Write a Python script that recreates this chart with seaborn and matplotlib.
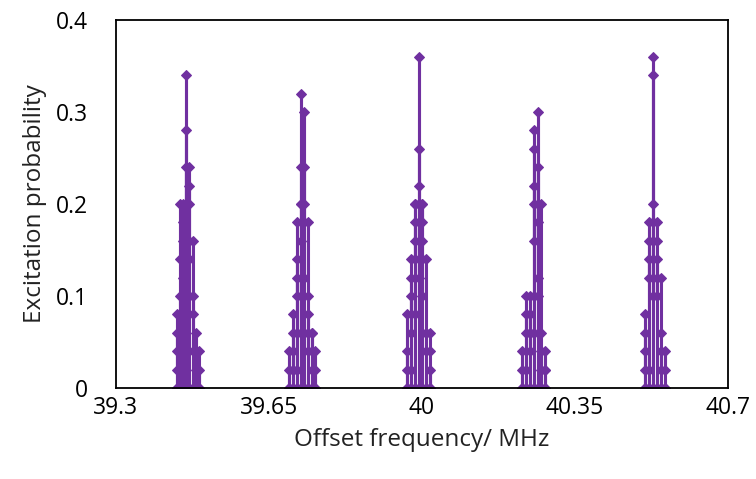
import matplotlib
matplotlib.use("Agg")
import matplotlib.pyplot as plt
import seaborn as sns
import pandas as pd

# ---- data: each cluster = measurement columns (frequency) and the sequence of
# excitation probabilities recorded at each column (in measurement order) ----
c1_freq = [39.4406, 39.4475, 39.4544, 39.4613, 39.4682, 39.4751, 39.4820, 39.4889]
c1_prob = [[0, 0.08, 0.04, 0, 0.06, 0.02],
           [0.02, 0.1, 0, 0.14, 0.2, 0.06],
           [0.06, 0.18, 0, 0.2, 0.12, 0.16, 0.04],
           [0.04, 0.34, 0, 0.28, 0.2, 0.24, 0.08, 0.14],
           [0.14, 0.24, 0, 0.22, 0.2, 0.1, 0.16],
           [0.16, 0.08, 0, 0.1, 0.04],
           [0.04, 0.06, 0, 0.02, 0.04],
           [0.04, 0, 0.02, 0]]

c2_freq = [39.6963, 39.7055, 39.7147, 39.7240, 39.7309, 39.7401, 39.7493, 39.7562]
c2_prob = [[0, 0.04, 0, 0.02],
           [0.02, 0.06, 0, 0.04, 0.08, 0.02],
           [0.02, 0.18, 0, 0.12, 0.06, 0.14, 0.1],
           [0.1, 0.32, 0, 0.2, 0.24, 0.16, 0.2, 0.06],
           [0.06, 0.3, 0, 0.24, 0.2, 0.12, 0.18],
           [0.18, 0.1, 0, 0.08, 0.04, 0.06],
           [0.06, 0.04, 0, 0.06, 0.02],
           [0.02, 0, 0.04, 0]]

c3_freq = [39.9659, 39.9751, 39.9843, 39.9935, 40.0005, 40.0097, 40.0189]
c3_prob = [[0, 0.08, 0, 0.04, 0.02],
           [0.02, 0.12, 0, 0.1, 0.06, 0.14],
           [0.14, 0.2, 0, 0.18, 0.16, 0.08, 0.2],
           [0.2, 0.36, 0, 0.26, 0.22, 0.2, 0.12, 0.18],
           [0.18, 0.2, 0, 0.16, 0.2, 0.1, 0.14],
           [0.14, 0.06, 0, 0.04, 0.06],
           [0.06, 0.04, 0, 0.02, 0]]

c4_freq = [40.2286, 40.2378, 40.2470, 40.2562, 40.2654, 40.2724, 40.2816]
c4_prob = [[0, 0.04, 0, 0.02],
           [0.02, 0.1, 0, 0.08, 0.06],
           [0.06, 0.1, 0, 0.08, 0.04, 0.06],
           [0.06, 0.28, 0, 0.26, 0.2, 0.16, 0.22, 0.1],
           [0.1, 0.3, 0, 0.24, 0.18, 0.12, 0.2],
           [0.2, 0.06, 0, 0.04, 0.02],
           [0.02, 0.04, 0, 0.02, 0]]

c5_freq = [40.5097, 40.5189, 40.5281, 40.5373, 40.5465, 40.5558]
c5_prob = [[0, 0.08, 0, 0.04, 0.06, 0.02],
           [0.02, 0.18, 0, 0.14, 0.12, 0.16],
           [0.16, 0.36, 0, 0.34, 0.2, 0.1, 0.18],
           [0.18, 0.16, 0, 0.14, 0.1, 0.12],
           [0.12, 0.06, 0, 0.04, 0.02],
           [0.02, 0.04, 0, 0]]

x_ticks = [39.3, 39.65, 40, 40.35, 40.7]
x_tick_labels = ["39.3", "39.65", "40", "40.35", "40.7"]
y_ticks = [0, 0.1, 0.2, 0.3, 0.4]
y_tick_labels = ["0", "0.1", "0.2", "0.3", "0.4"]

rows = []
order = 0
clusters = [(c1_freq, c1_prob), (c2_freq, c2_prob), (c3_freq, c3_prob),
            (c4_freq, c4_prob), (c5_freq, c5_prob)]
for cid, (freqs, probs) in enumerate(clusters):
    for f, plist in zip(freqs, probs):
        for p in plist:
            rows.append({"freq": f, "prob": p, "cluster": cid, "order": order})
            order += 1
df = pd.DataFrame(rows)

sns.set_style("white")
plt.rcParams["font.family"] = ["Open Sans", "DejaVu Sans"]

fig = plt.figure(figsize=(7.56, 4.79), dpi=100)
ax = fig.add_axes([0.1534, 0.19, 0.8095, 0.7682])

color = "#7030A0"
sns.lineplot(data=df, x="freq", y="prob", units="cluster", estimator=None, sort=False,
             color=color, linewidth=2.2, marker="D", markersize=5.2,
             markeredgecolor=color, markerfacecolor=color, ax=ax, legend=False)

ax.set_xlim(39.3, 40.7)
ax.set_ylim(0, 0.4)
ax.set_xticks(x_ticks)
ax.set_xticklabels(x_tick_labels)
ax.set_yticks(y_ticks)
ax.set_yticklabels(y_tick_labels)
ax.tick_params(axis="both", direction="in", length=5, width=1.2, labelsize=16.5, colors="black")
ax.tick_params(axis="y", pad=20)
ax.tick_params(axis="x", pad=6)
for s in ax.spines.values():
    s.set_color("black")
    s.set_linewidth(1.3)
ax.set_xlabel("Offset frequency/ MHz", fontsize=17.5, color="#222222")
ax.set_ylabel("Excitation probability", fontsize=17.5, color="#222222")
ax.xaxis.set_label_coords(0.5, -0.11)
ax.yaxis.set_label_coords(-0.113, 0.5)

fig.savefig("out.png", dpi=100)
